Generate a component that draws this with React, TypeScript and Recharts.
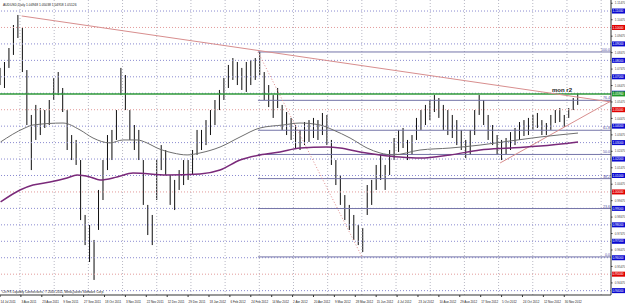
import React from "react";
import { Bar, ComposedChart, Line, ReferenceLine, XAxis, YAxis } from "recharts";

// AUDUSD daily, one candle per 3 sessions (high / low)
const BAR_STEP = 3;
const candleHigh = [
  1.0754, 1.079, 1.0875, 1.1015, 1.1076, 1.0997, 1.0741, 1.0468, 1.0529, 1.051,
  1.0498, 1.0559, 1.0693, 1.0729, 1.0632, 1.0498, 1.0346, 1.0316, 1.0194, 0.986,
  0.9799, 0.9708, 1.0012, 1.0194, 1.0346, 1.0377, 1.0498, 1.0754, 1.0711, 1.0498,
  1.0407, 1.0377, 1.0194, 0.9921, 0.986, 1.0194, 1.0285, 1.0255, 1.0103, 1.0073,
  1.0133, 1.0194, 1.0194, 1.0255, 1.0377, 1.0377, 1.0437, 1.0498, 1.0559, 1.062,
  1.0693, 1.0772, 1.0814, 1.079, 1.0754, 1.079, 1.0802, 1.0814, 1.0851, 1.0729,
  1.065, 1.0589, 1.0632, 1.0529, 1.0486, 1.045, 1.0407, 1.0377, 1.0425, 1.0437,
  1.045, 1.0437, 1.048, 1.0468, 1.0316, 1.0194, 1.0103, 0.9981, 0.9921, 0.986,
  0.9799, 0.9781, 1.0042, 1.0073, 1.0164, 1.0225, 1.0164, 1.0255, 1.0328, 1.0377,
  1.0389, 1.0316, 1.0346, 1.045, 1.0498, 1.0529, 1.0559, 1.0589, 1.0571, 1.0529,
  1.0498, 1.0468, 1.0437, 1.0377, 1.0316, 1.0377, 1.0498, 1.0589, 1.0559, 1.0468,
  1.0407, 1.0346, 1.0316, 1.0328, 1.0364, 1.0389, 1.0425, 1.0437, 1.045, 1.0468,
  1.048, 1.0437, 1.0419, 1.0468, 1.0498, 1.051, 1.0468, 1.051, 1.0571, 1.0602,
];
const candleLow = [
  1.065, 1.0632, 1.0754, 1.0833, 1.0936, 1.0729, 1.0407, 1.0133, 1.0316, 1.0346,
  1.0389, 1.0407, 1.0559, 1.0589, 1.0486, 1.0255, 1.0194, 1.0164, 0.9829, 0.9677,
  0.9574, 0.9465, 0.9769, 0.9951, 1.0133, 1.0194, 1.0316, 1.0589, 1.0498, 1.0316,
  1.0255, 1.0194, 0.9921, 0.9738, 0.9677, 0.9951, 1.0133, 1.0103, 0.9921, 0.989,
  1.0012, 1.0042, 1.0073, 1.0103, 1.0225, 1.0255, 1.0285, 1.0346, 1.0407, 1.0498,
  1.0559, 1.0632, 1.0681, 1.065, 1.062, 1.0608, 1.065, 1.0681, 1.0711, 1.0559,
  1.0516, 1.045, 1.051, 1.0377, 1.0346, 1.0316, 1.0267, 1.0255, 1.0285, 1.0304,
  1.0328, 1.0316, 1.0346, 1.0285, 1.0164, 1.0042, 0.9921, 0.9829, 0.9769, 0.9708,
  0.9677, 0.9635, 0.986, 0.9921, 1.0012, 1.0073, 1.0012, 1.0103, 1.0194, 1.0243,
  1.0267, 1.0194, 1.0225, 1.0316, 1.0377, 1.0407, 1.0437, 1.0486, 1.045, 1.0377,
  1.0346, 1.0328, 1.0285, 1.0255, 1.0206, 1.0225, 1.0346, 1.0468, 1.0407, 1.0316,
  1.0285, 1.0225, 1.0194, 1.0225, 1.0255, 1.0285, 1.0316, 1.034, 1.0346, 1.0377,
  1.0389, 1.0346, 1.0346, 1.0377, 1.0419, 1.0425, 1.0395, 1.045, 1.0498, 1.0529,
];

// moving averages: bar index / value
const maFastBars = [0.4, 16.7, 22.1, 42.2, 53.6, 62.3, 73.7, 82.4, 91.8, 98.5, 105.2, 115.9, 125.3, 134, 147.4, 160.8, 174.2, 189.6, 201, 214.4, 223.1, 234.5, 245.9, 254.6, 263.3, 281.4, 301.5, 321.6, 341.7, 361.8, 387.2];
const maFastValues = [1.0304, 1.0389, 1.0407, 1.0419, 1.0377, 1.0328, 1.0298, 1.0316, 1.0316, 1.0298, 1.0267, 1.0237, 1.0225, 1.0237, 1.0273, 1.0334, 1.0389, 1.0407, 1.0419, 1.0407, 1.0377, 1.0328, 1.0267, 1.0237, 1.0225, 1.0255, 1.0267, 1.0285, 1.031, 1.0334, 1.0358];
const maSlowBars = [0.4, 13.4, 22.1, 33.5, 44.9, 51.6, 60.3, 67, 78.4, 89.1, 111.9, 134, 147.4, 160.8, 174.2, 187.6, 201, 219.1, 227.8, 241.2, 254.6, 268, 281.4, 301.5, 321.6, 341.7, 361.8, 387.2];
const maSlowValues = [0.9939, 1.0012, 1.0042, 1.006, 1.0085, 1.0103, 1.0091, 1.0073, 1.0091, 1.0115, 1.0103, 1.0109, 1.0133, 1.0194, 1.0225, 1.0243, 1.0267, 1.0273, 1.0267, 1.0243, 1.0225, 1.0212, 1.0206, 1.0225, 1.0255, 1.0267, 1.0279, 1.0304];

const dateLabels = [
  "14 Jul 2011", "3 Aug 2011", "23 Aug 2011", "9 Sep 2011", "27 Sep 2011", "18 Oct 2011", "3 Nov 2011",
  "22 Nov 2011", "12 Dec 2011", "29 Dec 2011", "18 Jan 2012", "6 Feb 2012", "24 Feb 2012", "14 Mar 2012",
  "2 Apr 2012", "20 Apr 2012", "9 May 2012", "28 May 2012", "15 Jun 2012", "4 Jul 2012", "23 Jul 2012",
  "10 Aug 2012", "29 Aug 2012", "17 Sep 2012", "5 Oct 2012", "24 Oct 2012", "12 Nov 2012", "30 Nov 2012",
];
const roundLevels = [0.94, 0.95, 0.96, 0.97, 0.98, 0.99, 1.0, 1.01, 1.02, 1.03, 1.04, 1.05, 1.06, 1.07, 1.08, 1.09, 1.1, 1.11];
const priceTicks = [0.9447, 0.9547, 0.9647, 0.9747, 0.9847, 0.9947, 1.0047, 1.0147, 1.0247, 1.0347, 1.0447, 1.0547, 1.0647, 1.0747, 1.0847, 1.0947, 1.1047, 1.1147];
const monthlyR2 = 1.0596;
const fibRatios = [0, 23.6, 38.2, 50, 61.8, 76.4, 100];
const fibHigh = { bar: 172.8, price: 1.0851 };
const fibLow = { bar: 242.5, price: 0.9605 };
const downTrend = [{ bar: 14.5, price: 1.107 }, { bar: 409.3, price: 1.0547 }];
const upTrend = [{ bar: 335, price: 1.0176 }, { bar: 409.3, price: 1.0553 }];

const candles = candleHigh.map((hi, i) => ({ bar: i * BAR_STEP, hi, lo: candleLow[i] }));
const maFast = maFastBars.map((bar, i) => ({ bar, v: maFastValues[i] }));
const maSlow = maSlowBars.map((bar, i) => ({ bar, v: maSlowValues[i] }));

const X_MAX = 409.3;
const LABEL_EVERY = 14;
const gridBars = Array.from({ length: 18 }, (_, i) => 13.4 + 22.9 * i);
const FONT = "Liberation Sans, Arial, sans-serif";
const RED = "#e29a9a";
const BLUE = "#8a8ad0";

function Candle(props: any) {
  const { x, y, width, height } = props;
  if (x == null || y == null) return null;
  const top = Math.min(y, y + height);
  const h = Math.max(Math.abs(height), 1);
  const cx = x + width / 2;
  return (
    <g>
      <rect x={x} y={top} width={width} height={h} fill="#8a8a8a" />
      <line x1={cx} x2={cx} y1={top} y2={top + h} stroke="#111" strokeWidth={1} />
    </g>
  );
}

function AxisTag({ viewBox, text, color }: any) {
  if (!viewBox) return null;
  const left = viewBox.x + viewBox.width + 1;
  return (
    <g>
      <rect x={left} y={viewBox.y - 2.5} width={13} height={5} fill={color} />
      <text x={left + 0.4} y={viewBox.y + 1.2} fontSize={3.1} fill="#fff" fontFamily={FONT}>
        {text}
      </text>
    </g>
  );
}

function FibTag({ viewBox, text }: any) {
  if (!viewBox) return null;
  const right = viewBox.x + viewBox.width - 1;
  return (
    <text x={right} y={viewBox.y - 1} fontSize={3.6} fill="#5050a0" textAnchor="end" fontFamily={FONT}>
      {text}
    </text>
  );
}

function PivotTag({ viewBox, text }: any) {
  if (!viewBox) return null;
  const left = viewBox.x + viewBox.width + 1;
  return (
    <g>
      <text x={viewBox.x + viewBox.width - 59} y={viewBox.y - 1.5} fontSize={6} fontWeight="bold" fill="#222" fontFamily={FONT}>
        {text}
      </text>
      <rect x={left} y={viewBox.y - 2.5} width={13} height={5} fill="#1f9a2a" />
      <text x={left + 0.4} y={viewBox.y + 1.2} fontSize={3.1} fill="#fff" fontFamily={FONT}>
        {monthlyR2.toFixed(5)}
      </text>
    </g>
  );
}

function DateTick(props: any) {
  const { x, y, index } = props;
  return (
    <text x={x + 0.5} y={y + 3.5} fontSize={3} fill="#222" fontFamily={FONT}>
      {dateLabels[index]}
    </text>
  );
}

function PriceTick(props: any) {
  const { x, y, payload } = props;
  return (
    <text x={x + 0.3} y={y + 1.1} fontSize={3} fill="#444" fontFamily={FONT}>
      {Number(payload.value).toFixed(5)}
    </text>
  );
}

export default function App() {
  const fibRange = fibHigh.price - fibLow.price;
  return (
    <div style={{ position: "absolute", left: 0, top: 0, width: 625, height: 303, background: "#fff" }}>
      <ComposedChart width={625} height={303} data={candles} margin={{ top: 0, right: 0, bottom: 0, left: 0 }}>
        <XAxis
          type="number"
          dataKey="bar"
          domain={[0, X_MAX]}
          ticks={dateLabels.map((_, i) => i * LABEL_EVERY)}
          interval={0}
          height={8}
          allowDataOverflow
          tick={<DateTick />}
          tickLine={{ stroke: "#333" }}
          tickSize={2}
          axisLine={{ stroke: "#333" }}
        />
        <YAxis
          type="number"
          orientation="right"
          domain={[0.93734, 1.1167]}
          ticks={priceTicks}
          interval={0}
          width={14}
          allowDataOverflow
          tick={<PriceTick />}
          tickLine={{ stroke: "#333" }}
          tickSize={1.5}
          axisLine={{ stroke: "#333" }}
        />
        {gridBars.map((b) => (
          <ReferenceLine key={"g" + b} x={b} stroke="#b8b8c4" strokeDasharray="1 2" />
        ))}
        {roundLevels.map((lvl) => {
          const red = Math.round(lvl * 100) % 5 === 0;
          return (
            <ReferenceLine
              key={"r" + lvl}
              y={lvl}
              stroke={red ? RED : BLUE}
              strokeDasharray="1 2"
              label={<AxisTag text={lvl.toFixed(5)} color={red ? "#e00000" : "#0a0ad0"} />}
            />
          );
        })}
        {fibRatios.map((r) => {
          const lvl = fibLow.price + (fibRange * r) / 100;
          return (
            <ReferenceLine
              key={"f" + r}
              segment={[{ x: fibHigh.bar, y: lvl }, { x: X_MAX, y: lvl }]}
              stroke="#7474a8"
              label={<FibTag text={r.toFixed(1)} />}
            />
          );
        })}
        <ReferenceLine
          segment={[{ x: fibHigh.bar, y: fibHigh.price }, { x: fibLow.bar, y: fibLow.price }]}
          stroke="#e08c8c"
          strokeDasharray="1 2"
        />
        <ReferenceLine y={monthlyR2} stroke="#2f9a3a" strokeWidth={1.5} label={<PivotTag text="mon r2" />} />
        <ReferenceLine segment={downTrend.map((p) => ({ x: p.bar, y: p.price }))} stroke="#d88e8e" />
        <ReferenceLine segment={upTrend.map((p) => ({ x: p.bar, y: p.price }))} stroke="#d88e8e" />
        <Bar dataKey={(d: any) => [d.lo, d.hi]} barSize={2.6} shape={<Candle />} isAnimationActive={false} />
        <Line data={maFast} dataKey="v" type="monotone" stroke="#6e6e6e" strokeWidth={1} dot={false} activeDot={false} isAnimationActive={false} />
        <Line data={maSlow} dataKey="v" type="monotone" stroke="#7a2a7a" strokeWidth={1.5} dot={false} activeDot={false} isAnimationActive={false} />
      </ComposedChart>
      <svg width={625} height={303} style={{ position: "absolute", left: 0, top: 0, pointerEvents: "none" }}>
        <text x={3} y={5.5} fontSize={3.3} fill="#222" fontFamily={FONT}>
          AUDUSD,Daily  1.04948 1.05038 1.04918 1.05126
        </text>
        <text x={2} y={293} fontSize={3.2} fill="#222" fontFamily={FONT}>
          Citi FX Liquidity Connections, © 2001-2011, MetaQuotes Software Corp.
        </text>
      </svg>
    </div>
  );
}
